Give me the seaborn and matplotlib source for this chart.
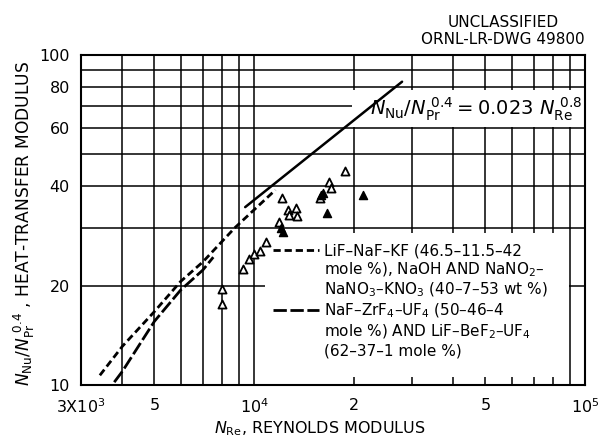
import numpy as np
import seaborn as sns
import matplotlib.pyplot as plt
from matplotlib.lines import Line2D
from matplotlib.patches import Rectangle
from matplotlib.ticker import FixedLocator, FixedFormatter, NullFormatter

# solid correlation line  N_Nu/N_Pr^0.4 = 0.023 N_Re^0.8 (end points)
solid_re = [9400, 28000]
solid_nu = [34.6, 83.0]

# short dashes: LiF-NaF-KF, NaOH and NaNO2-NaNO3-KNO3
short_re = [3420, 4000, 5000, 6000, 7000, 8760, 11600]
short_nu = [10.7, 13.1, 16.7, 20.6, 23.6, 30.0, 39.0]

# long dashes: NaF-ZrF4-UF4 and LiF-BeF2-UF4
long_re = [3780, 4000, 5000, 6000, 7000, 7530]
long_nu = [10.2, 11.0, 15.6, 19.4, 22.3, 24.4]

# open triangles
open_re = [7980, 8020, 9280, 9660, 9990, 10420, 10830, 11920, 12180, 12690,
           13360, 12780, 13450, 15800, 16880, 17040, 18820]
open_nu = [19.6, 17.6, 22.4, 24.1, 24.9, 25.5, 27.1, 31.2, 36.8, 33.9,
           34.3, 32.7, 32.6, 37.0, 41.3, 39.5, 44.6]

# filled triangles
filled_re = [12060, 12230, 15950, 16100, 16640, 21380]
filled_nu = [29.9, 29.1, 37.6, 38.3, 33.3, 37.6]

x_ticks = [3000, 5000, 1e4, 2e4, 5e4, 1e5]
x_labels = ["3X10$^3$", "5", "10$^4$", "2", "5", "10$^5$"]
y_ticks = [10, 20, 40, 60, 80, 100]
y_labels = ["10", "20", "40", "60", "80", "100"]

legend_lines = [
    "LiF–NaF–KF (46.5–11.5–42",
    "mole %), NaOH AND NaNO$_2$–",
    "NaNO$_3$–KNO$_3$ (40–7–53 wt %)",
    "NaF–ZrF$_4$–UF$_4$ (50–46–4",
    "mole %) AND LiF–BeF$_2$–UF$_4$",
    "(62–37–1 mole %)",
]

sns.set_style("white")
plt.rcParams['font.family'] = ['DejaVu Sans']
plt.rcParams['mathtext.fontset'] = 'dejavusans'
plt.rcParams['text.color'] = 'black'
plt.rcParams['axes.labelcolor'] = 'black'
plt.rcParams['xtick.color'] = 'black'
plt.rcParams['ytick.color'] = 'black'

fig = plt.figure(figsize=(6.02, 4.43), dpi=100)
ax = fig.add_axes([0.1346, 0.1309, 0.8372, 0.7449])
ax.set_xscale('log')
ax.set_yscale('log')

short_dash = (0, (2.6, 1.4))
long_dash = (0, (4.8, 1.3))

sns.lineplot(x=solid_re, y=solid_nu, ax=ax, color='black', lw=1.8,
             estimator=None, zorder=3)
sns.lineplot(x=short_re, y=short_nu, ax=ax, color='black', lw=2.0,
             linestyle=short_dash, estimator=None, zorder=3)
sns.lineplot(x=long_re, y=long_nu, ax=ax, color='black', lw=2.0,
             linestyle=long_dash, estimator=None, zorder=3)
sns.scatterplot(x=open_re, y=open_nu, ax=ax, marker='^', s=34,
                color='white', edgecolor='black', linewidth=1.3, zorder=4)
sns.scatterplot(x=filled_re, y=filled_nu, ax=ax, marker='^', s=34,
                color='black', edgecolor='black', linewidth=1.0, zorder=4)

ax.set_xlim(3000, 1e5)
ax.set_ylim(10, 100)

ax.xaxis.set_major_locator(FixedLocator(x_ticks))
ax.xaxis.set_major_formatter(FixedFormatter(x_labels))
ax.xaxis.set_minor_locator(FixedLocator([m * 10 ** e for e in (3, 4) for m in range(1, 10)]))
ax.xaxis.set_minor_formatter(NullFormatter())
ax.yaxis.set_major_locator(FixedLocator(y_ticks))
ax.yaxis.set_major_formatter(FixedFormatter(y_labels))
ax.yaxis.set_minor_locator(FixedLocator([30, 50, 70, 90]))
ax.yaxis.set_minor_formatter(NullFormatter())

ax.grid(which='both', color='black', lw=1.1)
ax.set_axisbelow(True)
ax.tick_params(which='both', length=0, labelsize=11.5, colors='black')
ax.tick_params(axis='x', pad=9)
ax.tick_params(axis='y', pad=8)
for s in ax.spines.values():
    s.set_color('black')
    s.set_linewidth(1.5)

# white areas where the drawing blanks out the grid
ax.add_patch(Rectangle((0.365, 0.024), 0.603, 0.436, transform=ax.transAxes,
                       facecolor='white', edgecolor='none', zorder=1))
ax.add_patch(Rectangle((0.538, 0.782), 0.46, 0.112, transform=ax.transAxes,
                       facecolor='white', edgecolor='none', zorder=1))

ax.text(0.994, 0.835, r"$N_{\rm Nu}/N_{\rm Pr}^{\ 0.4} = 0.023\ N_{\rm Re}^{\ 0.8}$",
        transform=ax.transAxes, ha='right', va='center', fontsize=14, zorder=5)

blank = Line2D([], [], color='none')
handles = [Line2D([], [], color='black', lw=2.0, linestyle=short_dash), blank, blank,
           Line2D([], [], color='black', lw=2.0, linestyle=long_dash), blank, blank]
ax.legend(handles, legend_lines, loc='upper left', bbox_to_anchor=(0.381, 0.43),
          frameon=False, fontsize=11, borderpad=0, borderaxespad=0,
          handlelength=3.0, handletextpad=0.35, labelspacing=0.15)

ax.set_xlabel(r"$N_{\rm Re}$, REYNOLDS MODULUS", fontsize=11.5)
ax.xaxis.set_label_coords(0.474, -0.105)
ax.set_ylabel(r"$N_{\rm Nu}/N_{\rm Pr}^{\ 0.4}$ , HEAT-TRANSFER MODULUS", fontsize=12.3)
ax.yaxis.set_label_coords(-0.087, 0.49)

fig.text(0.8355, 0.950, "UNCLASSIFIED", ha='center', va='center', fontsize=11)
fig.text(0.8355, 0.910, "ORNL-LR-DWG 49800", ha='center', va='center', fontsize=11)

fig.savefig('out.png', dpi=100, facecolor='white')
